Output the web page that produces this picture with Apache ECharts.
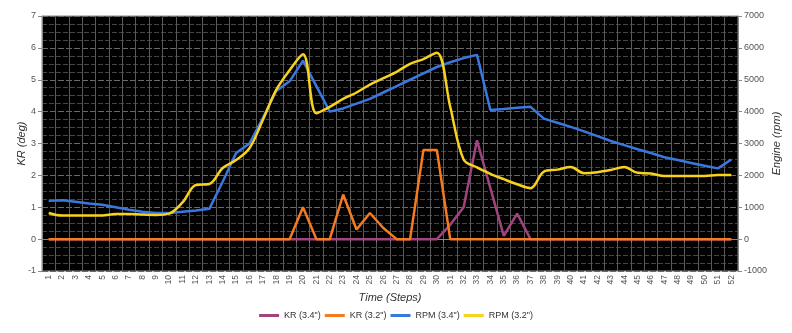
<!DOCTYPE html>
<html>
<head>
<meta charset="utf-8">
<script src="https://cdn.jsdelivr.net/npm/echarts@6/dist/echarts.min.js"></script>
<style>
html,body{margin:0;padding:0;background:#fff;}
#chart{width:792px;height:333px;}
</style>
</head>
<body>
<div id="chart"></div>
<script>
var categories = [];
for (var i = 1; i <= 52; i++) categories.push(String(i));

var seriesNames = ['KR (3.4")', 'KR (3.2")', 'RPM (3.4")', 'RPM (3.2")'];

var kr34 = [0,0,0,0,0,0,0,0,0,0, 0,0,0,0,0,0,0,0,0,0, 0,0,0,0,0,0,0,0,0,0,
            0.45,1.0,3.1,1.6,0.1,0.8,0, 0,0,0,0,0,0,0,0,0,0,0,0,0,0,0];
var kr32 = [0,0,0,0,0,0,0,0,0,0, 0,0,0,0,0,0,0,0,0,1.0, 0,0,1.4,0.3,0.82,0.35,0,0,2.8,2.8,
            0,0,0,0,0,0,0, 0,0,0,0,0,0,0,0,0,0,0,0,0,0,0];
var rpm34 = [1200,1220,1170,1120,1080,1000,920,860,820,820,
             860,900,950,1800,2700,3000,3800,4650,4950,5600,
             4800,4000,4100,4250,4400,4600,4800,5000,5200,5400,
             5550,5680,5780,4050,4080,4120,4150,3780,3650,3520,
             3380,3230,3080,2950,2820,2700,2570,2480,2390,2300,
             2220,2500];
var rpm32 = [820,740,740,740,740,790,790,770,760,800,
             1150,1700,1730,2230,2480,2850,3740,4680,5300,5800,
             3950,4150,4400,4600,4850,5050,5250,5500,5650,5850,
             4150,2500,2250,2050,1880,1720,1600,2120,2180,2260,
             2070,2100,2170,2260,2080,2060,1980,1980,1980,1980,
             2010,2010];

var krTicks = {min: -1, max: 7, interval: 1};
var rpmTicks = {min: -1000, max: 7000, interval: 1000};

var colors = ['#A1437F', '#F47B20', '#3B78DE', '#F7D21E'];

var chart = echarts.init(document.getElementById('chart'));
var axisLabelStyle = {color: '#555', fontSize: 9, fontFamily: 'Liberation Sans'};

chart.setOption({
  animation: false,
  backgroundColor: '#fff',
  color: colors,
  grid: {left: 42, right: 54, top: 16, bottom: 62, outerBoundsMode: 'none', containLabel: false, show: true, backgroundColor: '#000', borderColor: '#888', borderWidth: 1},
  legend: {
    data: seriesNames,
    bottom: 8,
    left: 'center',
    icon: 'rect',
    itemWidth: 20,
    itemHeight: 3,
    itemGap: 4,
    textStyle: {color: '#333', fontSize: 9, fontFamily: 'Liberation Sans'}
  },
  xAxis: {
    type: 'category',
    data: categories,
    boundaryGap: true,
    name: 'Time (Steps)',
    nameLocation: 'middle',
    nameGap: 21,
    nameMoveOverlap: false,
    nameTextStyle: {color: '#333', fontSize: 11, fontStyle: 'italic', fontFamily: 'Liberation Sans'},
    axisLine: {show: true, lineStyle: {color: '#888'}},
    axisTick: {show: true, alignWithLabel: false, length: 3, lineStyle: {color: '#888'}},
    axisLabel: {rotate: 90, interval: 0, fontSize: 8.5, margin: 4, color: '#555', fontFamily: 'Liberation Sans'},
    splitLine: {show: true, interval: 0, lineStyle: {color: '#5a5a5a', width: 1}}
  },
  yAxis: [
    {
      type: 'value',
      min: krTicks.min, max: krTicks.max, interval: krTicks.interval,
      name: 'KR (deg)',
      nameLocation: 'middle',
      nameGap: 15,
      nameRotate: 90,
      nameMoveOverlap: false,
      nameTextStyle: {color: '#333', fontSize: 11, fontStyle: 'italic', fontFamily: 'Liberation Sans'},
      axisLine: {show: true, lineStyle: {color: '#888'}},
      axisTick: {show: true, length: 4, lineStyle: {color: '#888'}},
      axisLabel: Object.assign({margin: 6}, axisLabelStyle),
      splitLine: {show: true, lineStyle: {color: '#6a6a6a', type: [6, 2], width: 1}},
      minorTick: {show: false, splitNumber: 4},
      minorSplitLine: {show: true, lineStyle: {color: '#444', type: [5, 2], width: 1}}
    },
    {
      type: 'value',
      min: rpmTicks.min, max: rpmTicks.max, interval: rpmTicks.interval,
      name: 'Engine (rpm)',
      nameLocation: 'middle',
      nameGap: 33,
      nameRotate: 90,
      nameMoveOverlap: false,
      nameTextStyle: {color: '#333', fontSize: 11, fontStyle: 'italic', fontFamily: 'Liberation Sans'},
      axisLine: {show: true, lineStyle: {color: '#888'}},
      axisTick: {show: true, length: 4, lineStyle: {color: '#888'}},
      axisLabel: Object.assign({margin: 6, formatter: function (v) { return String(v); }}, axisLabelStyle),
      splitLine: {show: false}
    }
  ],
  series: [
    {name: seriesNames[0], type: 'line', yAxisIndex: 0, data: kr34, showSymbol: false, symbol: 'none', lineStyle: {width: 2.5, color: colors[0]}, itemStyle: {color: colors[0]}},
    {name: seriesNames[1], type: 'line', yAxisIndex: 0, data: kr32, showSymbol: false, symbol: 'none', lineStyle: {width: 2.5, color: colors[1]}, itemStyle: {color: colors[1]}},
    {name: seriesNames[2], type: 'line', yAxisIndex: 1, data: rpm34, showSymbol: false, symbol: 'none', lineStyle: {width: 2.5, color: colors[2]}, itemStyle: {color: colors[2]}},
    {name: seriesNames[3], type: 'line', yAxisIndex: 1, data: rpm32, smooth: 0.35, showSymbol: false, symbol: 'none', lineStyle: {width: 2.5, color: colors[3]}, itemStyle: {color: colors[3]}}
  ]
});
</script>
</body>
</html>
